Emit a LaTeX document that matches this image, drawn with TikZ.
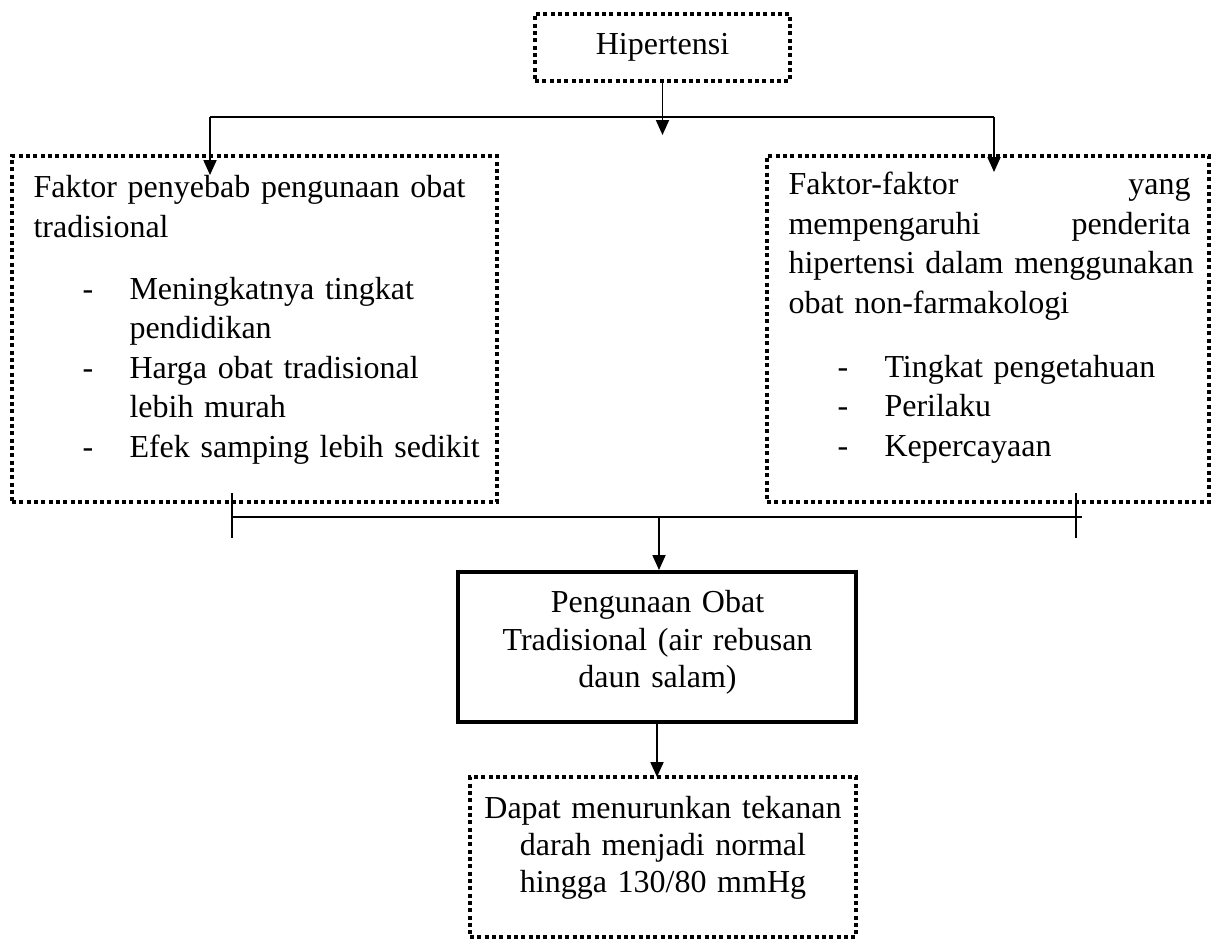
\documentclass[tikz,border=0pt]{standalone}
\usepackage{fontspec}
\setmainfont{Liberation Serif}
\usetikzlibrary{arrows.meta}
\newlength\px
\setlength\px{0.375pt}
\tikzset{
  dotbox/.style={draw, line width=1.35pt, dash pattern=on 1.45pt off 1.3pt, inner sep=0pt, outer sep=0pt},
  solidbox/.style={draw, line width=1.5pt, inner sep=0pt},
  conn/.style={draw, line width=0.6pt},
  arr/.style={conn, -{Triangle[width=4.9pt,length=5.6pt]}},
  txtA/.style={inner sep=0pt, align=left, font=\fontsize{12pt}{14.8pt}\selectfont},
  txtC/.style={inner sep=0pt, align=center, font=\fontsize{12pt}{14.06pt}\selectfont},
}
\newcommand{\itm}[1]{\hspace*{49\px}\makebox[47\px][l]{-}#1}
\newcommand{\itc}[1]{\hspace*{96\px}#1}
\newcommand{\jline}[1]{\leavevmode\makebox[402\px][l]{#1}}
\begin{document}
\begin{tikzpicture}[x=0.375pt,y=-0.375pt]
\fill[white] (0,0) rectangle (1217,940);
\useasboundingbox (0,0) rectangle (1217,940);

% boxes
\node[dotbox, minimum width=255\px, minimum height=67\px, font=\fontsize{12pt}{14.8pt}\selectfont] (hip) at (662.5,47.5) {Hipertensi};
\node[dotbox, minimum width=485\px, minimum height=346\px] (lbox) at (254.5,329) {};
\node[dotbox, minimum width=442\px, minimum height=346\px] (rbox) at (988,329) {};
\node[solidbox, minimum width=398\px, minimum height=150\px] (mbox) at (657,647) {};
\node[dotbox, minimum width=386\px, minimum height=160\px] (bbox) at (663,857) {};

% texts
\node[txtA, anchor=base west, text width=455\px] (ltxt) at (33,198) {%
Faktor penyebab pengunaan obat\\
tradisional\\[8.4pt]
\itm{Meningkatnya tingkat}\\
\itc{pendidikan}\\
\itm{Harga obat tradisional}\\
\itc{lebih murah}\\
\itm{Efek samping lebih sedikit}};

\node[txtA, anchor=base west, text width=402\px] (rtxt) at (788,195) {%
\jline{Faktor-faktor\hfill yang}\\
\jline{mempengaruhi\hfill penderita}\\
\mbox{hipertensi dalam menggunakan}\\
obat non-farmakologi\\[9.2pt]
\itm{Tingkat pengetahuan}\\
\itm{Perilaku}\\
\itm{Kepercayaan}};

\node[txtC, anchor=base, text width=390\px] (mtxt) at (657.5,613) {Pengunaan Obat\\Tradisional (air rebusan\\daun salam)};
\node[txtC, anchor=base, text width=380\px] (btxt) at (663,818) {Dapat menurunkan tekanan\\darah menjadi normal\\hingga 130/80 mmHg};

% connectors top
\coordinate (hipend) at (662.5,135);
\coordinate (tl) at (210,117);
\coordinate (tr) at (994,117);
\coordinate (tlend) at (210,175);
\coordinate (trend) at (994,172);
\draw[arr] (hip.south) -- (hipend);
\draw[conn] (tl) -- (tr);
\draw[arr] (tl) -- (tlend);
\draw[arr] (tr) -- (trend);

% connectors bottom
\coordinate (bl) at (232,517);
\coordinate (br) at (1082,517);
\coordinate (bj) at (659,517);
\coordinate (tk1a) at (232,493);
\coordinate (tk1b) at (232,538);
\coordinate (tk2a) at (1076,493);
\coordinate (tk2b) at (1076,538);
\draw[conn] (bl) -- (br);
\draw[conn] (tk1a) -- (tk1b);
\draw[conn] (tk2a) -- (tk2b);
\draw[arr] (bj) -- (bj |- mbox.north);
\draw[arr] (mbox.south) -- (mbox.south |- bbox.north);
\end{tikzpicture}
\end{document}
